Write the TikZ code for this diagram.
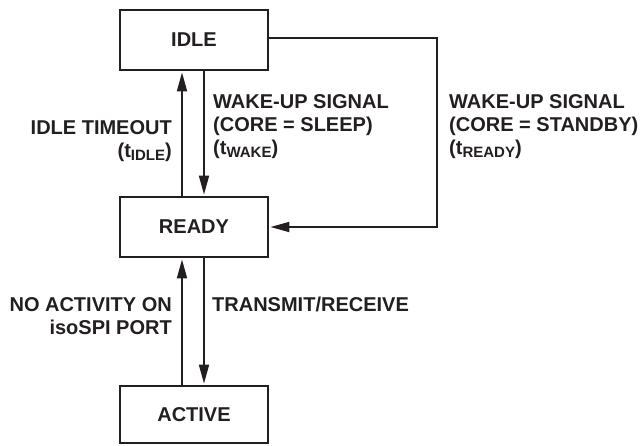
\documentclass[tikz,border=0pt]{standalone}
\usepackage{fontspec}
\setmainfont{Liberation Sans}
\usetikzlibrary{arrows.meta,positioning}
\definecolor{stedge}{RGB}{35,31,32}
\newcommand{\lblfont}{\fontsize{20}{23}\selectfont\bfseries}
\newcommand{\tsub}[1]{\raisebox{-0.35ex}{\fontsize{15}{15}\selectfont #1}}
\tikzset{
  statebox/.style={
    draw=stedge, line width=1.8pt, fill=white, text=stedge,
    minimum width=148pt, minimum height=60pt, font=\lblfont
  },
  arr/.style={-{Triangle[length=19pt,width=10pt]}, draw=stedge, line width=1.8pt, shorten >=1.5pt},
  lbl/.style={font=\lblfont, text=stedge, inner sep=0pt},
  every picture/.append style={line join=miter}
}

\begin{document}
\begin{tikzpicture}[x=1pt, y=-1pt]
  \useasboundingbox (0,0) rectangle (642,445);
  % states
  \node[statebox] (idle) at (194,40) {IDLE};
  \node[statebox] (ready) at (194,227) {READY};
  \node[statebox, minimum height=57pt] (active) at (194,414.5) {ACTIVE};
  % transitions
  \draw[arr] ([xshift=-12pt]ready.north) -- ([xshift=-12pt]idle.south);
  \draw[arr] ([xshift=10pt]idle.south) -- ([xshift=10pt]ready.north);
  \draw[arr] ([yshift=2pt]idle.east) -- ++(168,0) |- (ready.east);
  \draw[arr] ([xshift=-12pt]active.north) -- ([xshift=-12pt]ready.south);
  \draw[arr] ([xshift=10pt]ready.south) -- ([xshift=10pt]active.north);
  % labels
  \node[lbl, anchor=north east, align=right] (timeout) at (172,120) {IDLE TIMEOUT\\(t\tsub{IDLE})};
  \node[lbl, anchor=north west, align=left] (wakesleep) at (213,94) {WAKE-UP SIGNAL\\(CORE = SLEEP)\\(t\tsub{WAKE})};
  \node[lbl, anchor=north west, align=left] (wakestby) at (449,94) {WAKE-UP SIGNAL\\(CORE = STANDBY)\\(t\tsub{READY})};
  \node[lbl, anchor=north east, align=right] (noact) at (172,297) {NO ACTIVITY ON\\isoSPI PORT};
  \node[lbl, anchor=north west] (txrx) at (212,297) {TRANSMIT/RECEIVE};
\end{tikzpicture}
\end{document}
